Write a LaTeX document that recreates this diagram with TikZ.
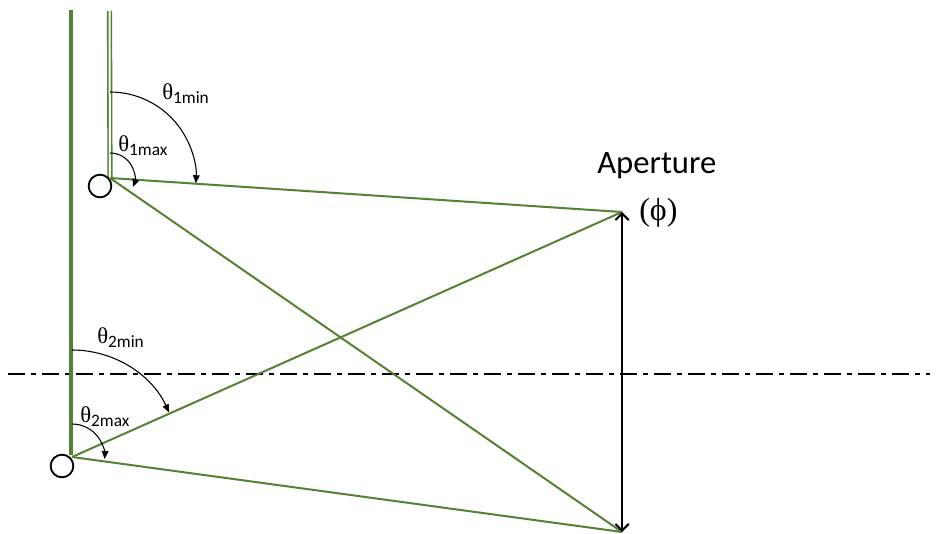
\documentclass[tikz,border=0pt]{standalone}
\usepackage{fontspec}
\setmainfont{Carlito}
\newfontfamily\greekfont{Liberation Serif}
\usetikzlibrary{arrows.meta, calc}
\definecolor{rodgreen}{RGB}{84,130,53}
\tikzset{
ray/.style = {draw = rodgreen, line width = 1.5pt},
wall/.style = {draw = rodgreen, line width = 3pt},
thin wall/.style = {draw = rodgreen, line width = 1.2pt, double = white, double distance = 1.5pt},
source/.style = {circle, draw = black, line width = 1.4pt, minimum size = 17pt, inner sep = 0pt},
angle arrow/.style = {draw = black, line width = 0.8pt, -{Triangle[length = 6pt, width = 5pt]}},
axis/.style = {draw = black, line width = 2pt, dash pattern = on 13pt off 4.5pt on 3.5pt off 4.5pt},
aperture/.style = {draw = black, line width = 1.5pt, {Straight Barb[length = 5pt, width = 10pt]}-{Straight Barb[length = 5pt, width = 10pt]}},
angle label/.style = {anchor = base west, inner sep = 0pt, font = \fontsize{17}{17}\selectfont},
}
\newcommand{\thetasub}[1]{{\greekfont θ}\raisebox{-3pt}{\fontsize{13}{13}\selectfont #1}}

\begin{document}
\begin{tikzpicture}[x = 0.75pt, y = 0.75pt]
    \useasboundingbox (0, 0) rectangle (936, 533);
    \coordinate (P1) at (110, 355);
    \coordinate (P2) at (72, 76);
    \coordinate (A) at (622, 321);
    \coordinate (B) at (622, 1);
    \coordinate (axis l) at (8, 159);
    \coordinate (axis r) at (930, 159);
    \coordinate (wall top) at (71, 523);
    \coordinate (wall bottom) at (71, 78);
    \coordinate (thin top) at (109.5, 522);
    % optical axis
    \path[axis] (axis l) -- (axis r);
    \path[wall] (wall top) -- (wall bottom);
    \path[thin wall] (thin top) -- (P1);
    \node[source] (s1) at (100, 347) {};
    \node[source] (s2) at (62, 67) {};
    % rays to the aperture edges
    \path[ray] (P1) -- (A);
    \path[ray] (P1) -- (B);
    \path[ray] (P2) -- (A);
    \path[ray] (P2) -- (B);
    \path[aperture] (A) -- (B);
    % angles
    \path[angle arrow] ($(P1) + (0, 86)$) arc[start angle = 90, end angle = -3.5, radius = 64.5pt];
    \path[angle arrow] ($(P1) + (0, 25)$) arc[start angle = 90, end angle = -22, radius = 18.5pt];
    \path[angle arrow] ($(P2) + (0, 107)$) arc[start angle = 90, end angle = 24.5, radius = 80pt];
    \path[angle arrow] ($(P2) + (0, 33)$) arc[start angle = 90, end angle = -4, radius = 24.5pt];
    \node[angle label] (t1min) at (162, 433) {\thetasub{1min}};
    \node[angle label] (t1max) at (118, 381) {\thetasub{1max}};
    \node[angle label] (t2min) at (97, 190) {\thetasub{2min}};
    \node[angle label] (t2max) at (80, 111) {\thetasub{2max}};
    \node[anchor = base west, inner sep = 0pt, font = \fontsize{24.5}{24.5}\selectfont] (ap label) at (597, 359) {Aperture};
    \node[anchor = base west, inner sep = 0pt, font = \greekfont\fontsize{24}{24}\selectfont] (phi label) at (639, 312) {(ϕ)};
\end{tikzpicture}
\end{document}
